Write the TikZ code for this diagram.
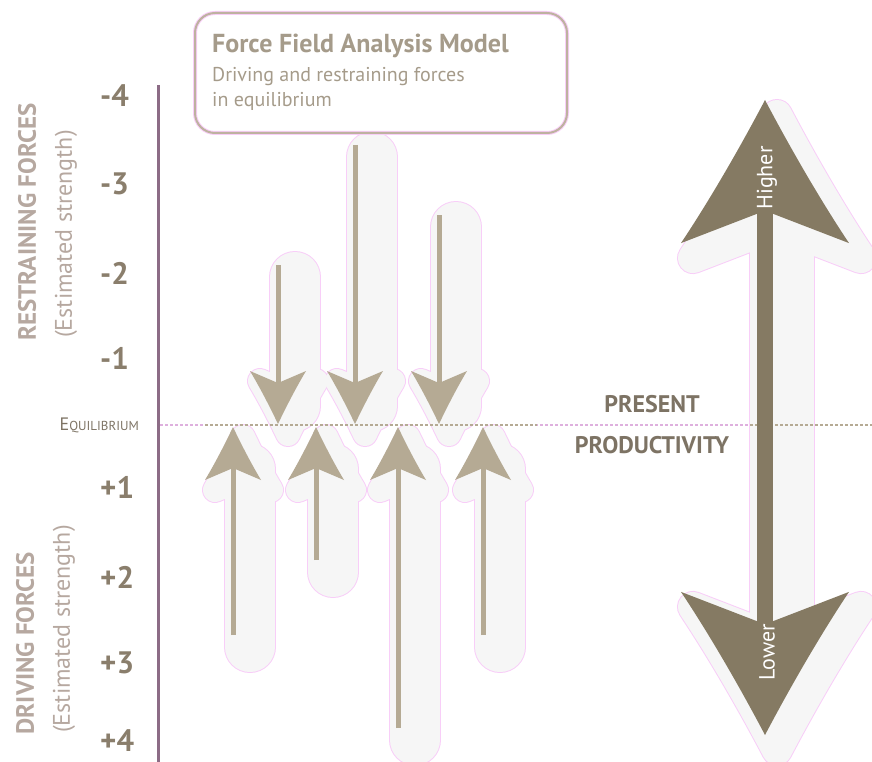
\documentclass[tikz,border=0pt]{standalone}
\usepackage{fontspec}
\setmainfont{PT Sans}
\usetikzlibrary{positioning,calc}

\definecolor{axisviolet}{RGB}{140,108,134}
\definecolor{forcetan}{RGB}{181,170,148}
\definecolor{bigbrown}{RGB}{133,122,99}
\definecolor{labeltan}{RGB}{182,168,160}
\definecolor{numbrown}{RGB}{138,126,108}
\definecolor{titletan}{RGB}{165,155,138}
\definecolor{boxtan}{RGB}{190,178,160}
\definecolor{prodbrown}{RGB}{125,115,100}
\definecolor{halogray}{RGB}{246,246,246}
\definecolor{halopink}{RGB}{248,206,248}
\definecolor{eqpink}{RGB}{222,176,222}

\tikzset{
    pics/fhead/.style={
        code={
            \path[pic actions] (0,0) .. controls (-9,19) and (-19,38) .. (-28,53)
                -- (0,41) -- (28,53) .. controls (19,38) and (9,19) .. (0,0) -- cycle;
        }
    },
    force/.style={
        draw=forcetan,
        line width=5pt,
        shorten >=30pt,
    },
    bigforce/.style={
        draw=bigbrown,
        line width=16pt,
        shorten >=100pt,
        shorten <=100pt,
    },
    tick/.style={
        anchor=west,
        inner sep=0pt,
        text=numbrown,
        font=\fontsize{31}{31}\selectfont\bfseries,
    },
    side/.style={
        rotate=90,
        inner sep=0pt,
        text=labeltan,
        font=\fontsize{25}{25}\selectfont\bfseries,
    },
    sidesmall/.style={
        rotate=90,
        inner sep=0pt,
        text=labeltan,
        font=\fontsize{24}{24}\selectfont,
    },
    titlebox/.style={
        draw=boxtan,
        line width=2pt,
        rounded corners=20pt,
        minimum width=372pt,
        minimum height=120pt,
        preaction={draw=halopink,line width=4pt},
    },
    onarrow/.style={
        rotate=90,
        inner sep=0pt,
        text=white,
        font=\fontsize{22}{22}\selectfont,
    },
    eqline/.style={
        line width=2.5pt,
        dash pattern=on 3pt off 2pt,
    },
}

\begin{document}
\begin{tikzpicture}[x=1pt,y=-1pt]
    \useasboundingbox (0,0) rectangle (872,762);

    % ends of the forces (t = tail, h = head)
    \coordinate (r1-t) at (278,265); \coordinate (r1-h) at (278,424);
    \coordinate (r2-t) at (355,145); \coordinate (r2-h) at (355,424);
    \coordinate (r3-t) at (439,215); \coordinate (r3-h) at (439,424);
    \coordinate (d1-t) at (233,635); \coordinate (d1-h) at (233,427);
    \coordinate (d2-t) at (316,560); \coordinate (d2-h) at (316,427);
    \coordinate (d3-t) at (398,728); \coordinate (d3-h) at (398,427);
    \coordinate (d4-t) at (483,635); \coordinate (d4-h) at (483,427);
    \coordinate (hi) at (765,100);
    \coordinate (lo) at (765,735);

    % soft shadows, pink rim first
    \foreach \c/\sw/\hw/\bw/\bh in {halopink/52/26/66/32, halogray/50/24/64/30} {
        \foreach \n/\r in {r1/180,r2/180,r3/180,d1/0,d2/0,d3/0,d4/0} {
            \draw[draw=\c,line width=\sw pt,line cap=round,shorten >=30pt]
                ($(\n-t)+(17,12)$) -- ($(\n-h)+(17,12)$);
            \pic[rotate=\r,fill=\c,draw=\c,line width=\hw pt,line join=round]
                at ($(\n-h)+(10,10)$) {fhead};
        }
        \draw[draw=\c,line width=\bw pt,shorten >=100pt,shorten <=100pt]
            ($(hi)+(17,12)$) -- ($(lo)+(17,12)$);
        \pic[fill=\c,draw=\c,line width=\bh pt,line join=round,xscale=3,yscale=2.7]
            at ($(hi)+(12,15)$) {fhead};
        \pic[rotate=180,fill=\c,draw=\c,line width=\bh pt,line join=round,xscale=3,yscale=2.7]
            at ($(lo)+(12,15)$) {fhead};
    }

    % scale
    \coordinate (axtop) at (158,85);
    \coordinate (axbot) at (158,762);
    \draw[axisviolet,line width=3pt] (axtop) -- (axbot);
    \foreach \v/\y [count=\i] in {-4/96,-3/184,-2/273,-1/358,+1/487,+2/577,+3/663,+4/741}
        \node[tick] (tick\i) at (100,\y) {\v};
    \node[anchor=east,inner sep=0pt,text=prodbrown] (eq) at (139,425)
        {{\fontsize{18}{18}\selectfont E}{\fontsize{13}{13}\selectfont QUILIBRIUM}};

    % equilibrium line
    \coordinate (eq0) at (160,425);
    \coordinate (eqa) at (205,425);
    \coordinate (eqb) at (537,425);
    \coordinate (eqc) at (750,425);
    \coordinate (eq1) at (872,425);
    \draw[eqline,eqpink] (eq0) -- (eq1);
    \draw[eqline,forcetan] (eqa) -- (eqb);
    \draw[eqline,forcetan] (eqc) -- (eq1);

    % side labels
    \node[side] (rest) at (27,222) {RESTRAINING FORCES};
    \node[sidesmall] (rests) at (66,234) {(Estimated strength)};
    \node[side] (driv) at (25,643) {DRIVING FORCES};
    \node[sidesmall] (drivs) at (64,629) {(Estimated strength)};

    % title
    \node[titlebox] (box) at (381,73) {};
    \node[anchor=base west,inner sep=0pt,text=titletan,font=\fontsize{26}{26}\selectfont\bfseries]
        (ttl) at (212,53) {Force Field Analysis Model};
    \node[anchor=base west,inner sep=0pt,text=titletan,font=\fontsize{20}{20}\selectfont]
        (sub1) at (212,82) {Driving and restraining forces};
    \node[anchor=base west,inner sep=0pt,text=titletan,font=\fontsize{20}{20}\selectfont]
        (sub2) at (212,107) {in equilibrium};

    % forces
    \foreach \n/\r in {r1/180,r2/180,r3/180,d1/0,d2/0,d3/0,d4/0} {
        \draw[force] (\n-t) -- (\n-h);
        \pic[rotate=\r,fill=forcetan] at (\n-h) {fhead};
    }

    % productivity arrow
    \draw[bigforce] (hi) -- (lo);
    \pic[fill=bigbrown,xscale=3,yscale=2.7] at (hi) {fhead};
    \pic[rotate=180,fill=bigbrown,xscale=3,yscale=2.7] at (lo) {fhead};
    \node[onarrow] (higher) at (767,178) {Higher};
    \node[onarrow] (lower) at (767,652) {Lower};

    \node[inner sep=0pt,text=prodbrown,font=\fontsize{24}{24}\selectfont\bfseries]
        (pres) at (652,404) {PRESENT};
    \node[inner sep=0pt,text=prodbrown,font=\fontsize{24}{24}\selectfont\bfseries]
        (prod) at (652,445) {PRODUCTIVITY};
\end{tikzpicture}
\end{document}
